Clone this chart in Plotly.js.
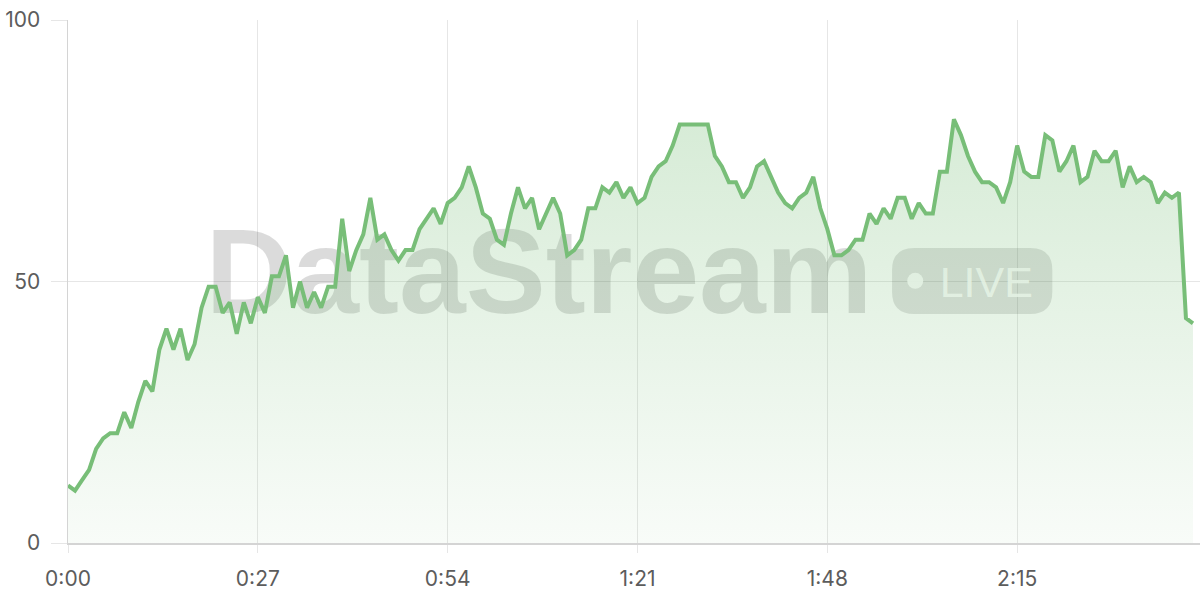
<!DOCTYPE html>
<html>
<head>
<meta charset="utf-8">
<script src="https://cdn.plot.ly/plotly-3.0.1.min.js"></script>
<style>html,body{margin:0;padding:0;background:#fff;}#chart{width:1200px;height:600px;}</style>
</head>
<body>
<div id="chart"></div>
<script>
// Value per second, 0:00 .. 2:40
const values = [
  11,10,12,14,18,20,21,21,25,22,
  27,31,29,37,41,37,41,35,38,45,
  49,49,44,46,40,46,42,47,44,51,
  51,55,45,50,45,48,45,49,49,62,
  52,56,59,66,58,59,56,54,56,56,
  60,62,64,61,65,66,68,72,68,63,
  62,58,57,63,68,64,66,60,63,66,
  63,55,56,58,64,64,68,67,69,66,
  68,65,66,70,72,73,76,80,80,80,
  80,80,74,72,69,69,66,68,72,73,
  70,67,65,64,66,67,70,64,60,55,
  55,56,58,58,63,61,64,62,66,66,
  62,65,63,63,71,71,81,78,74,71,
  69,69,68,65,69,76,71,70,70,78,
  77,71,73,76,69,70,75,73,73,75,
  68,72,69,70,69,65,67,66,67,43,
  42
];
const seconds = values.map((_, i) => i);
const xTickVals = [0, 27, 54, 81, 108, 135];
const xTickText = ['0:00', '0:27', '0:54', '1:21', '1:48', '2:15'];
const yTickVals = [0, 50, 100];
const yTickText = ['0', '50', '100'];
const watermarkTitle = 'DataStream';
const watermarkBadge = 'LIVE';

const lineColor = 'rgb(120,190,120)';

const trace = {
  x: seconds,
  y: values,
  type: 'scatter',
  mode: 'lines',
  line: {color: lineColor, width: 4, shape: 'linear'},
  fill: 'tozeroy',
  fillcolor: 'rgba(120,190,120,0.15)',
  fillgradient: {
    type: 'vertical',
    start: 0,
    stop: 81,
    colorscale: [[0, 'rgba(120,190,120,0.05)'], [1, 'rgba(120,190,120,0.30)']]
  },
  hoverinfo: 'skip'
};

// pill geometry (data coords)
const px0 = 117.2, px1 = 140.0, py0 = 43.8, py1 = 56.4;
const rx = 3.13, ry = 4.2;
const pillPath = `M ${px0+rx},${py0} L ${px1-rx},${py0} Q ${px1},${py0} ${px1},${py0+ry} ` +
  `L ${px1},${py1-ry} Q ${px1},${py1} ${px1-rx},${py1} L ${px0+rx},${py1} ` +
  `Q ${px0},${py1} ${px0},${py1-ry} L ${px0},${py0+ry} Q ${px0},${py0} ${px0+rx},${py0} Z`;

const wmColor = 'rgba(0,0,0,0.14)';

const layout = {
  width: 1200,
  height: 600,
  margin: {l: 68, r: 0, t: 20, b: 57, pad: 0},
  paper_bgcolor: '#ffffff',
  plot_bgcolor: '#ffffff',
  showlegend: false,
  font: {family: 'Inter, "Noto Sans", sans-serif', color: '#5c5c5c', size: 21},
  xaxis: {
    range: [0, 161],
    tickvals: xTickVals,
    ticktext: xTickText,
    showgrid: true,
    gridcolor: '#e6e6e6',
    gridwidth: 1.2,
    zeroline: false,
    showline: true,
    linecolor: '#d4d4d4',
    linewidth: 1.5,
    ticks: 'outside',
    ticklen: 8,
    tickcolor: '#e6e6e6',
    tickfont: {size: 21, color: '#5c5c5c'},
    ticklabelstandoff: 8,
    fixedrange: true
  },
  yaxis: {
    range: [0, 100],
    tickvals: yTickVals,
    ticktext: yTickText,
    showgrid: true,
    gridcolor: '#e6e6e6',
    gridwidth: 1.2,
    zeroline: false,
    showline: true,
    linecolor: '#d4d4d4',
    linewidth: 1.5,
    ticks: 'outside',
    ticklen: 16,
    tickcolor: '#e6e6e6',
    tickfont: {size: 21, color: '#5c5c5c'},
    ticklabelstandoff: 6,
    fixedrange: true
  },
  shapes: [
    {type: 'rect', xref: 'x', yref: 'y', x0: 10, x1: 124, y0: 42, y1: 66.4,
     fillcolor: 'rgba(0,0,0,0)', line: {width: 0}, layer: 'between',
     label: {text: watermarkTitle, textposition: 'middle center',
             font: {family: '"Liberation Sans", Arial, sans-serif', size: 120, weight: 'bold', color: wmColor}}},
    {type: 'path', xref: 'x', yref: 'y', path: pillPath,
     fillcolor: 'rgba(0,0,0,0.12)', line: {width: 0}, layer: 'between'},
    {type: 'circle', xref: 'x', yref: 'y',
     x0: 119.36, x1: 121.64, y0: 48.6, y1: 51.66,
     fillcolor: 'rgba(255,255,255,0.9)', line: {width: 0}, layer: 'between'},
    {type: 'rect', xref: 'x', yref: 'y', x0: 124, x1: 137.2, y0: 44.5, y1: 56.7,
     fillcolor: 'rgba(0,0,0,0)', line: {width: 0}, layer: 'between',
     label: {text: watermarkBadge, textposition: 'middle center',
             font: {family: '"Liberation Sans", Arial, sans-serif', size: 43, color: 'rgba(255,255,255,0.9)'}}}
  ]
};

Plotly.newPlot('chart', [trace], layout, {displayModeBar: false, staticPlot: true});
</script>
</body>
</html>
